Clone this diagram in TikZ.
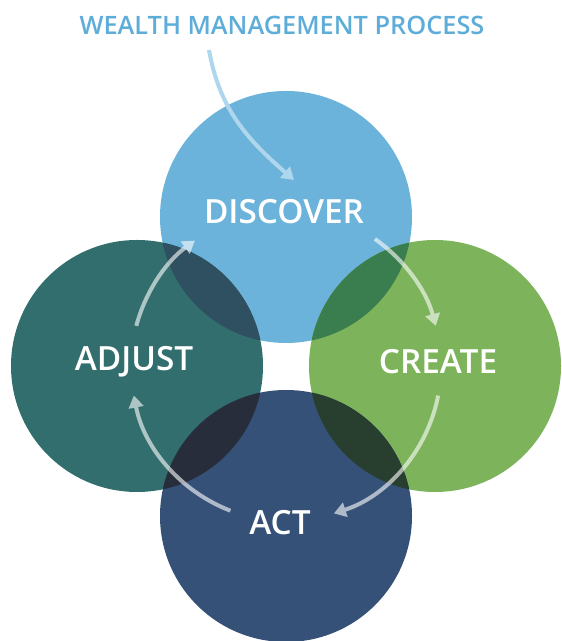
\documentclass[tikz,border=0pt]{standalone}
\usepackage{fontspec}
\setmainfont{Open Sans}
\newfontfamily\semibold{Open Sans}[UprightFont={* Semibold}]
\usetikzlibrary{arrows.meta}
\definecolor{discoverblue}{HTML}{6BB3DA}
\definecolor{adjustteal}{HTML}{336E6E}
\definecolor{creategreen}{HTML}{7DB35B}
\definecolor{actnavy}{HTML}{355178}
\definecolor{mixDA}{HTML}{2F5061}
\definecolor{mixDC}{HTML}{3A7E4F}
\definecolor{mixCA}{HTML}{283F2F}
\definecolor{mixAA}{HTML}{272D3B}
\definecolor{titleblue}{HTML}{5EADD9}
\definecolor{pointerblue}{HTML}{AED6EC}

\begin{document}
\begin{tikzpicture}[x=0.75pt, y=0.75pt,
    steplabel/.style={text=white, font=\semibold\fontsize{25}{29}\selectfont, inner sep=0pt},
    cyclearrow/.style={white, line width=3pt, -{Triangle[length=9pt,width=11pt]}}]

   \useasboundingbox (0,0) rectangle (561,641);

   \coordinate (cD) at (286,424);
   \coordinate (cA) at (137,275);
   \coordinate (cC) at (435,275);
   \coordinate (cT) at (286,125);
   \coordinate (ring) at (286,275);

   \fill[discoverblue] (cD) circle[radius=126];
   \fill[adjustteal] (cA) circle[radius=126];
   \fill[creategreen] (cC) circle[radius=126];
   \fill[actnavy] (cT) circle[radius=126];

   % overlaps
   \begin{scope}
     \clip (cD) circle[radius=126];
     \fill[mixDA] (cA) circle[radius=126];
     \fill[mixDC] (cC) circle[radius=126];
   \end{scope}
   \begin{scope}
     \clip (cT) circle[radius=126];
     \fill[mixCA] (cC) circle[radius=126];
     \fill[mixAA] (cA) circle[radius=126];
   \end{scope}

   \node[text=titleblue, font=\semibold\fontsize{19}{23}\selectfont, inner sep=0pt] (title) at (282,616) {WEALTH MANAGEMENT PROCESS};
   \node[steplabel] (discover) at (284,429) {DISCOVER};
   \node[steplabel] (adjust) at (134,279) {ADJUST};
   \node[steplabel] (create) at (438,279) {CREATE};
   \node[steplabel] (act) at (280,118) {ACT};

   \coordinate (pstart) at (209,591);
   \coordinate (ptip) at (294,461);
   \draw[pointerblue, line width=3pt, -{Triangle[length=9pt,width=11pt]}]
      (pstart) to[out=-80, in=139] (ptip);

   \begin{scope}[transparency group, opacity=0.6]
     \foreach \a/\b in {55/15, -11/-72, -111/-169, 165/126}
       \draw[cyclearrow] (ring) ++(\a:155) arc[start angle=\a, end angle=\b, radius=155];
   \end{scope}

\end{tikzpicture}
\end{document}
